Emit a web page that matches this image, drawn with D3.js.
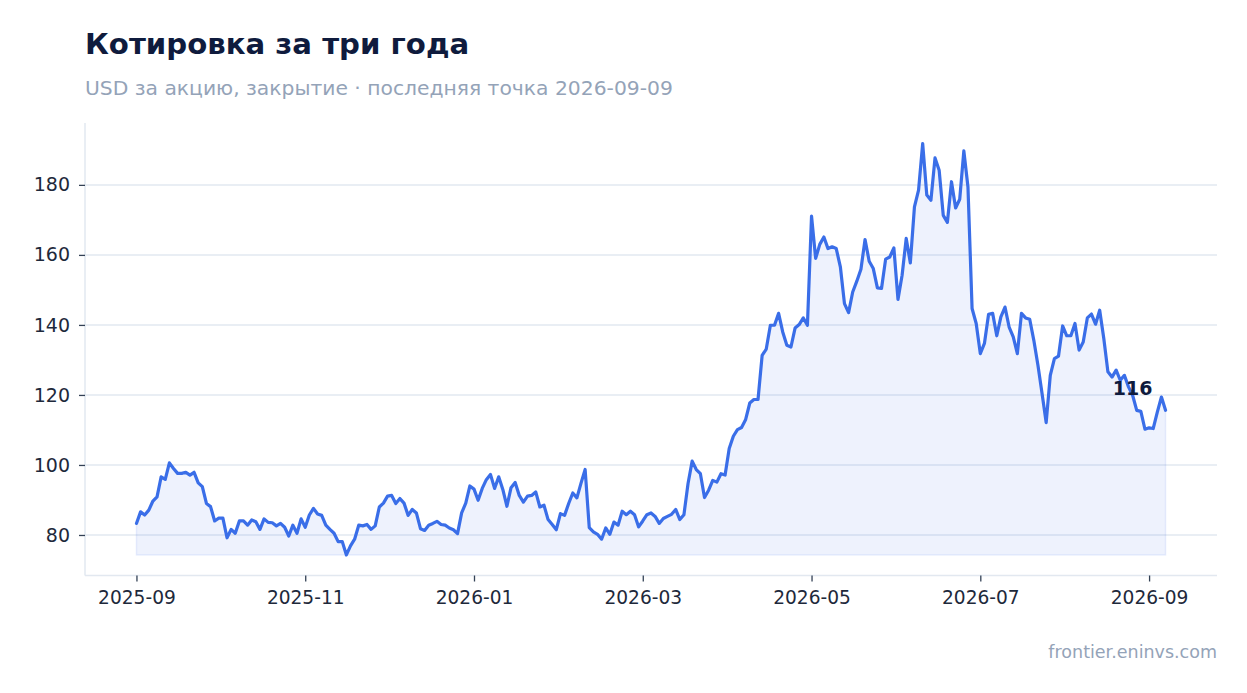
<!DOCTYPE html>
<html><head><meta charset="utf-8">
<script src="https://cdn.jsdelivr.net/npm/d3@7"></script>
<style>body{margin:0;background:#fff} svg{display:block;font-family:"DejaVu Sans",sans-serif}</style>
</head><body><svg id="c" width="1247" height="693"></svg>
<script>
const prices = [
83.3,86.6,85.7,87.1,89.7,90.9,96.6,95.9,100.6,99.0,
97.6,97.6,97.9,97.1,97.9,94.9,93.8,89.0,88.1,84.0,
84.8,84.8,79.2,81.6,80.5,84.0,84.0,82.8,84.3,83.8,
81.6,84.6,83.6,83.5,82.6,83.3,82.2,79.7,82.8,80.5,
84.6,82.2,85.7,87.6,86.0,85.6,82.8,81.6,80.5,78.1,
78.1,74.3,76.9,78.8,82.8,82.6,83.0,81.6,82.6,88.0,
89.1,91.1,91.3,89.0,90.4,89.1,85.6,87.3,86.3,81.8,
81.3,82.8,83.3,83.9,83.0,82.8,82.0,81.5,80.4,86.3,
89.1,94.0,93.1,89.9,93.3,95.8,97.3,93.3,96.6,93.0,
88.2,93.5,95.0,91.3,89.4,91.1,91.3,92.3,88.0,88.5,
84.4,83.0,81.5,86.1,85.6,89.0,92.0,90.6,94.8,98.7,
82.1,80.9,80.2,78.8,82.0,80.2,83.7,82.8,86.8,85.8,
86.8,85.8,82.3,84.0,85.8,86.3,85.3,83.3,84.7,85.3,
85.9,87.3,84.4,85.8,94.7,101.1,98.7,97.5,90.7,92.8,
95.6,95.1,97.5,97.1,104.7,108.2,110.1,110.7,113.0,117.7,
118.7,118.7,131.3,133.1,139.9,139.9,143.3,138.0,134.2,133.7,
139.1,140.1,142.0,139.9,171.1,159.0,163.0,165.1,161.8,162.3,
161.8,156.6,146.1,143.5,149.4,152.5,155.9,164.4,158.2,156.1,
150.6,150.4,158.8,159.4,162.0,147.3,154.2,164.7,157.7,173.7,
178.5,191.8,177.1,175.6,187.7,184.2,171.3,169.3,180.9,173.4,
175.9,189.7,179.4,144.7,140.4,131.8,134.7,143.0,143.3,136.9,
142.3,145.1,139.4,136.6,131.8,143.3,142.0,141.6,135.6,128.5,
120.4,112.1,125.6,130.4,131.1,139.7,136.9,136.9,140.4,132.8,
135.1,142.0,143.1,140.2,144.2,136.1,126.6,125.1,127.1,124.2,
125.6,122.3,119.9,115.6,115.3,110.2,110.6,110.4,115.1,119.4,
115.6
];
const xTickIndex = [0,41,82,123,164,205,246];
const xTickLabels = ["2025-09","2025-11","2026-01","2026-03","2026-05","2026-07","2026-09"];
const yTicks = [80,100,120,140,160,180];
const title = "Котировка за три года";
const subtitle = "USD за акцию, закрытие · последняя точка 2026-09-09";
const source = "frontier.eninvs.com";
const lastLabel = "116";

const svg = d3.select("#c");
const L = 85, R = 1217, T = 123, B = 575.5;
const n = prices.length;
const lo = d3.min(prices), hi = d3.max(prices);
const padX = (n - 1) * 0.05, padY = (hi - lo) * 0.05;
const x = d3.scaleLinear().domain([-padX, n - 1 + padX]).range([L, R]);
const y = d3.scaleLinear().domain([lo - padY, hi + padY]).range([B, T]);

const grid = "#e2e8f0", lineC = "#3a6ee8", dark = "#0f1b3d", muted = "#94a3b8", tickC = "#1e293b";

svg.append("g").selectAll("line").data(yTicks).join("line")
  .attr("x1", L).attr("x2", R).attr("y1", d => y(d)).attr("y2", d => y(d))
  .attr("stroke", grid).attr("stroke-width", 1.5);

const idx = d3.range(n);
svg.append("path").datum(idx)
  .attr("d", d3.area().x(i => x(i)).y0(y(lo)).y1(i => y(prices[i])))
  .attr("fill", lineC).attr("fill-opacity", 0.085)
  .attr("stroke", lineC).attr("stroke-opacity", 0.1).attr("stroke-width", 1.5);
svg.append("path").datum(idx)
  .attr("d", d3.line().x(i => x(i)).y(i => y(prices[i])))
  .attr("fill", "none").attr("stroke", lineC).attr("stroke-width", 3.2)
  .attr("stroke-linejoin", "round").attr("stroke-linecap", "round");

svg.append("line").attr("x1", L).attr("x2", L).attr("y1", T).attr("y2", B).attr("stroke", grid).attr("stroke-width", 1.5);
svg.append("line").attr("x1", L).attr("x2", R).attr("y1", B).attr("y2", B).attr("stroke", grid).attr("stroke-width", 1.5);

const ya = svg.append("g").attr("transform", `translate(${L},0)`)
  .call(d3.axisLeft(y).tickValues(yTicks).tickSize(6).tickPadding(9));
ya.select(".domain").remove();
ya.selectAll("line").attr("stroke", "#334155").attr("stroke-width", 1.3);
ya.selectAll("text").attr("font-size", "19px").attr("fill", tickC).attr("font-family", "DejaVu Sans");

const xa = svg.append("g").attr("transform", `translate(0,${B})`)
  .call(d3.axisBottom(x).tickValues(xTickIndex).tickFormat((d, i) => xTickLabels[i]).tickSize(6).tickPadding(9));
xa.select(".domain").remove();
xa.selectAll("line").attr("stroke", "#334155").attr("stroke-width", 1.3);
xa.selectAll("text").attr("font-size", "18.6px").attr("fill", tickC).attr("font-family", "DejaVu Sans");

svg.append("text").attr("x", x(n - 1) - 13).attr("y", y(prices[n - 1]) - 15)
  .attr("text-anchor", "end").attr("font-weight", "bold").attr("font-size", "19px")
  .attr("fill", dark).text(lastLabel);

svg.append("text").attr("x", 85).attr("y", 54).attr("font-size", "29.2px").attr("font-weight", "bold")
  .attr("fill", dark).text(title);
svg.append("text").attr("x", 85).attr("y", 94.5).attr("font-size", "20.3px")
  .attr("fill", muted).text(subtitle);
svg.append("text").attr("x", R).attr("y", 658).attr("text-anchor", "end").attr("font-size", "17.5px")
  .attr("fill", muted).text(source);
</script></body></html>
